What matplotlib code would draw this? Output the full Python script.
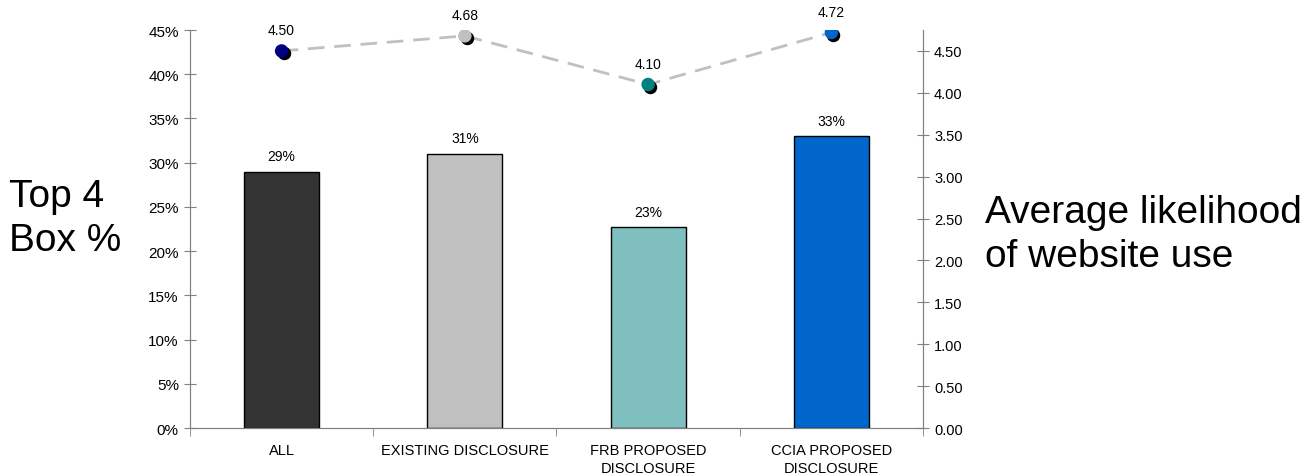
import numpy as np
import matplotlib.pyplot as plt
import matplotlib.transforms as mtransforms

plt.rcParams['font.family'] = ['Liberation Sans', 'DejaVu Sans']

# Survey results by disclosure group
groups = ['ALL', 'EXISTING DISCLOSURE', 'FRB PROPOSED\nDISCLOSURE', 'CCIA PROPOSED\nDISCLOSURE']
top4_share = [0.29, 0.31, 0.227, 0.33]
avg_likelihood = [4.50, 4.68, 4.10, 4.72]

bar_colors = ['#333333', '#C0C0C0', '#80BFBF', '#0066CC']
dot_colors = ['#000080', '#C0C0C0', '#008080', '#0066CC']
axis_gray = '#808080'


def main():
    fig = plt.figure(figsize=(13.12, 4.77), dpi=100)
    ax = fig.add_axes([0.1448, 0.1006, 0.5587, 0.8344])
    ax2 = ax.twinx()

    x = np.arange(len(groups))
    ax.bar(x, top4_share, width=0.41, color=bar_colors, edgecolor='black',
           linewidth=1, zorder=2)
    for xi, v in zip(x, top4_share):
        ax.annotate(f'{v:.0%}', (xi, v), xytext=(0, 6), textcoords='offset points',
                    ha='center', va='bottom', fontsize=10)

    ax.set_xlim(-0.5, len(groups) - 0.5)
    ax.set_ylim(0, 0.45)
    ax.set_yticks(np.arange(0, 0.451, 0.05))
    ax.set_yticklabels([f'{t:.0%}' for t in np.arange(0, 0.451, 0.05)])
    ax.set_xticks(x)
    ax.set_xticklabels(groups, fontsize=10.5, linespacing=1.3)
    ax.set_xticks(np.arange(-0.5, len(groups), 1.0), minor=True)
    ax.tick_params(axis='x', which='major', length=0, pad=11)
    ax.tick_params(axis='x', which='minor', length=6, direction='out', color=axis_gray)
    ax.tick_params(axis='y', length=8, direction='inout', color=axis_gray, labelsize=11, pad=4)

    # average likelihood on the secondary axis
    ax2.set_ylim(0, 4.75)
    ax2.set_yticks(np.arange(0, 4.51, 0.5))
    ax2.set_yticklabels([f'{t:.2f}' for t in np.arange(0, 4.51, 0.5)])
    ax2.tick_params(axis='y', length=8, direction='inout', color=axis_gray, labelsize=10.5, pad=4)
    ax2.plot(x, avg_likelihood, color='#C0C0C0', linewidth=2, dashes=(6, 3.5), zorder=2)
    shadow = mtransforms.offset_copy(ax2.transData, fig=fig, x=1.5, y=-1.5, units='points')
    ax2.scatter(x, avg_likelihood, s=75, color='black', transform=shadow, zorder=3)
    ax2.scatter(x, avg_likelihood, s=75, color=dot_colors, zorder=4)
    for xi, v in zip(x, avg_likelihood):
        ax2.annotate(f'{v:.2f}', (xi, v), xytext=(0, 10), textcoords='offset points',
                     ha='center', va='bottom', fontsize=10)

    for a in (ax, ax2):
        a.spines['top'].set_visible(False)
        for side in ('left', 'right', 'bottom'):
            a.spines[side].set_color(axis_gray)

    fig.text(0.007, 0.541, 'Top 4\nBox %', fontsize=28, ha='left', va='center',
             linespacing=1.28)
    fig.text(0.751, 0.507, 'Average likelihood\nof website use', fontsize=28,
             ha='left', va='center', linespacing=1.28)

    fig.savefig('out.png', dpi=100)


if __name__ == '__main__':
    main()
